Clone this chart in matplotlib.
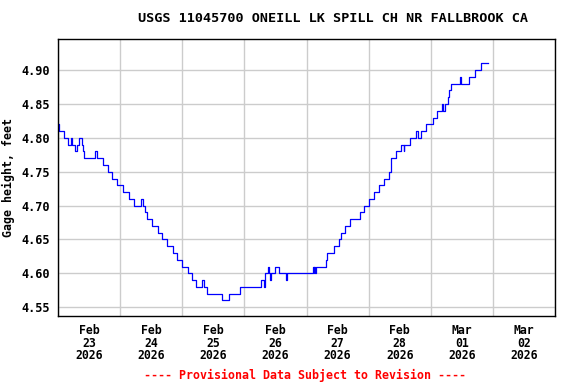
import matplotlib
matplotlib.use("Agg")
import matplotlib.pyplot as plt
import matplotlib.dates as mdates
import pandas as pd

# gage height changes: hours after 2026-02-23 00:00, value (ft)
hours = [0, 0.5, 2.5, 4.0, 5.0, 5.25, 6.5, 7.5, 8.0, 9.25, 9.75, 10.0,
         14.25, 15.0, 17.25, 19.25, 20.75, 22.75, 25.0, 27.25, 29.5, 32.0,
         33.0, 33.75, 34.25, 36.25, 38.5, 40.25, 42.25, 44.25, 46.0, 47.75,
         50.25, 51.75, 53.25, 55.5, 56.25, 57.75, 63.5, 66.25, 70.5, 78.25,
         79.5, 80.0, 81.0, 81.5, 81.75, 82.25, 84.0, 85.25, 88.25, 88.5,
         98.5, 98.75, 99.0, 99.25, 99.75, 103.5, 104.0, 106.75, 108.5, 109.5,
         111.0, 112.75, 116.5, 118.25, 120.25, 122.25, 124.0, 125.75, 127.75,
         128.5, 128.75, 130.75, 132.5, 133.5, 133.75, 136.0, 138.25, 139.0,
         140.25, 142.25, 144.75, 146.5, 148.5, 148.75, 149.5, 150.5, 151.0,
         151.75, 155.25, 155.5, 158.75, 161.0, 163.25, 166.25]
height = [4.82, 4.81, 4.80, 4.79, 4.80, 4.79, 4.78, 4.79, 4.80, 4.79, 4.78, 4.77,
          4.78, 4.77, 4.76, 4.75, 4.74, 4.73, 4.72, 4.71, 4.70, 4.71,
          4.70, 4.69, 4.68, 4.67, 4.66, 4.65, 4.64, 4.63, 4.62, 4.61,
          4.60, 4.59, 4.58, 4.59, 4.58, 4.57, 4.56, 4.57, 4.58, 4.59,
          4.58, 4.60, 4.61, 4.60, 4.59, 4.60, 4.61, 4.60, 4.59, 4.60,
          4.61, 4.60, 4.61, 4.60, 4.61, 4.62, 4.63, 4.64, 4.65, 4.66,
          4.67, 4.68, 4.69, 4.70, 4.71, 4.72, 4.73, 4.74, 4.75,
          4.76, 4.77, 4.78, 4.79, 4.78, 4.79, 4.80, 4.81, 4.80,
          4.81, 4.82, 4.83, 4.84, 4.85, 4.84, 4.85, 4.86, 4.87,
          4.88, 4.89, 4.88, 4.89, 4.90, 4.91, 4.91]

yticks = [4.55, 4.60, 4.65, 4.70, 4.75, 4.80, 4.85, 4.90]

start = pd.Timestamp("2026-02-23 00:00")
times = start + pd.to_timedelta(hours, unit="h")

mono = "DejaVu Sans Mono"
fig = plt.figure(figsize=(5.76, 3.84), dpi=100)
ax = fig.add_axes([58/576, 1-316/384, 497/576, 277/384])

ax.plot(times, height, color="#0000ff", lw=0.9, drawstyle="steps-post")

ax.set_xlim(start, start + pd.Timedelta(days=8))
ax.set_ylim(4.537, 4.946)

ax.xaxis.set_major_locator(mdates.DayLocator())
ax.xaxis.set_major_formatter(plt.NullFormatter())
ax.xaxis.set_minor_locator(mdates.HourLocator(byhour=[12]))
ax.xaxis.set_minor_formatter(mdates.DateFormatter("%b\n%d\n%Y"))
ax.tick_params(axis="x", which="major", length=0)
ax.tick_params(axis="x", which="minor", length=0, pad=6)
for lab in ax.get_xticklabels(minor=True):
    lab.set_fontfamily(mono)
    lab.set_fontweight("bold")
    lab.set_fontsize(8.3)
    lab.set_linespacing(0.95)

ax.set_yticks(yticks)
ax.set_yticklabels(["%.2f" % v for v in yticks], family=mono, weight="bold", fontsize=8.6)
ax.tick_params(axis="y", length=0, pad=6)

ax.grid(True, which="major", color="#cccccc", lw=1)
ax.set_axisbelow(True)
for s in ax.spines.values():
    s.set_linewidth(1)

ax.set_ylabel("Gage height, feet", family=mono, weight="bold", fontsize=8.4)
ax.yaxis.set_label_coords(-0.086, 0.5)
fig.text(333/576, 1-19/384, "USGS 11045700 ONEILL LK SPILL CH NR FALLBROOK CA",
         ha="center", va="center", family=mono, weight="bold", fontsize=9.7)
fig.text(305.5/576, 1-375/384, "---- Provisional Data Subject to Revision ----",
         ha="center", va="center", family=mono, weight="bold", fontsize=8.4, color="red")

fig.savefig("out.png", dpi=100)
